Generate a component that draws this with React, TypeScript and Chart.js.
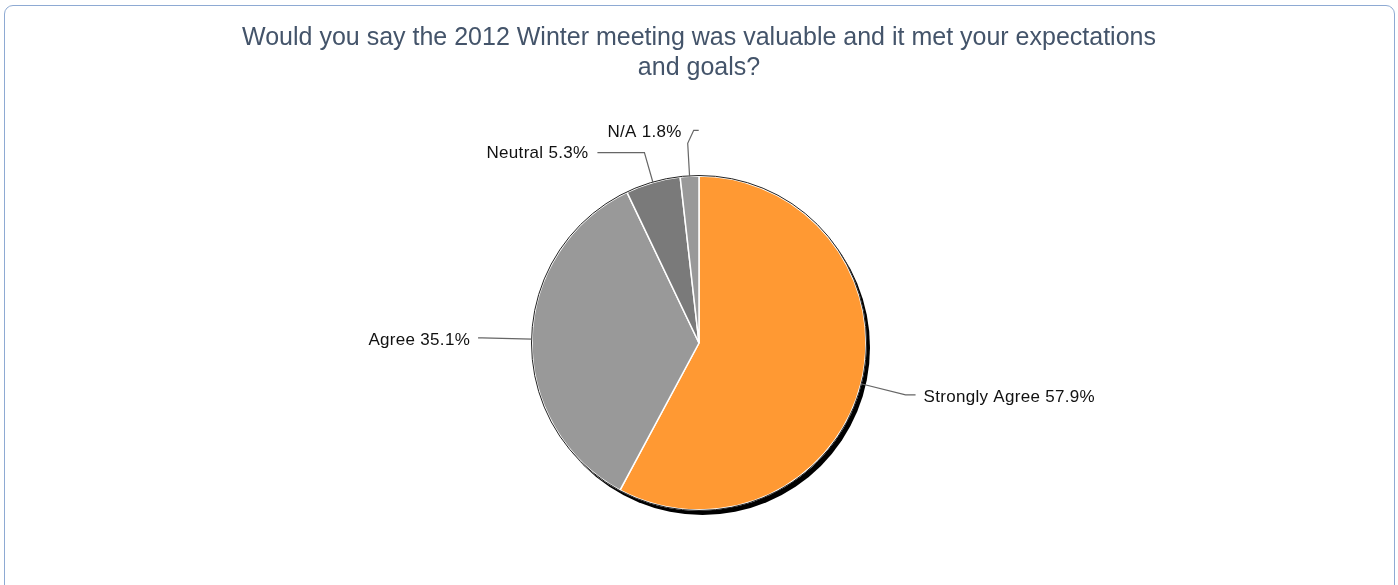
import React, { useEffect, useRef } from "react";
import { Chart, registerables } from "chart.js";

Chart.register(...registerables);

const TITLE_LINES = [
  "Would you say the 2012 Winter meeting was valuable and it met your expectations",
  "and goals?",
];
const CATEGORIES = ["Strongly Agree", "Agree", "Neutral", "N/A"];
const PERCENTS = [57.9, 35.1, 5.3, 1.8];
const SLICE_COLORS = ["#ff9933", "#999999", "#7a7a7a", "#999999"];

// leader-line layout per slice (style only)
const LEADERS = [
  { radial: 46, bend: [0, 0], h: 10, text: [8, 2], align: "left" },
  { radial: 50, bend: [0, 0], h: -4, text: [-8, 2], align: "right" },
  { radial: 31, bend: [0, 0], h: -47, text: [-9, 1], align: "right" },
  { radial: 33, bend: [6, -13], h: 5, text: [-17, 1.5], align: "right" },
];

const W = 1398;
const H = 585;

const piePlugin = {
  id: "pieDecor",
  beforeDatasetsDraw(chart: any) {
    const ctx = chart.ctx;
    const arc = chart.getDatasetMeta(0).data[0];
    if (!arc) return;
    const { x, y, outerRadius } = arc.getProps(["x", "y", "outerRadius"], true);
    ctx.save();
    ctx.fillStyle = "#000000";
    ctx.beginPath();
    ctx.arc(x + 3.5, y + 4.5, outerRadius + 0.5, 0, Math.PI * 2);
    ctx.fill();
    ctx.restore();
  },
  afterDatasetsDraw(chart: any) {
    const ctx = chart.ctx;
    const meta = chart.getDatasetMeta(0);
    const first = meta.data[0];
    if (!first) return;
    const { x: cx, y: cy, outerRadius: r } = first.getProps(["x", "y", "outerRadius"], true);
    ctx.save();
    ctx.strokeStyle = "#222222";
    ctx.lineWidth = 1;
    ctx.beginPath();
    ctx.arc(cx, cy, r + 0.5, 0, Math.PI * 2);
    ctx.stroke();

    // labels & leader lines
    ctx.font = "17px 'Liberation Sans', Arial, sans-serif";
    try {
      (ctx as any).letterSpacing = "0.3px";
    } catch (e) {}
    ctx.textBaseline = "middle";
    meta.data.forEach((el: any, i: number) => {
      const { startAngle, endAngle } = el.getProps(["startAngle", "endAngle"], true);
      const mid = (startAngle + endAngle) / 2;
      const L = LEADERS[i];
      const p0 = [cx + Math.cos(mid) * r, cy + Math.sin(mid) * r];
      const p1 = [cx + Math.cos(mid) * (r + L.radial), cy + Math.sin(mid) * (r + L.radial)];
      const p2 = [p1[0] + L.bend[0], p1[1] + L.bend[1]];
      const p3 = [p2[0] + L.h, p2[1]];
      ctx.strokeStyle = "#666666";
      ctx.lineWidth = 1.2;
      ctx.beginPath();
      ctx.moveTo(p0[0], p0[1]);
      ctx.lineTo(p1[0], p1[1]);
      ctx.lineTo(p2[0], p2[1]);
      ctx.lineTo(p3[0], p3[1]);
      ctx.stroke();
      ctx.fillStyle = "#111111";
      ctx.textAlign = L.align as CanvasTextAlign;
      const label = CATEGORIES[i] + " " + PERCENTS[i].toFixed(1) + "%";
      ctx.fillText(label, p3[0] + L.text[0], p3[1] + L.text[1]);
    });

    // title
    try {
      (ctx as any).letterSpacing = "0px";
    } catch (e) {}
    ctx.fillStyle = "#44546a";
    ctx.textAlign = "center";
    ctx.font = "25px 'Liberation Sans', Arial, sans-serif";
    TITLE_LINES.forEach((t, i) => {
      ctx.fillText(t, chart.width / 2, 38 + i * 30);
    });
    ctx.restore();
  },
};

export default function App() {
  const ref = useRef<HTMLCanvasElement | null>(null);

  useEffect(() => {
    if (!ref.current) return;
    const chart = new Chart(ref.current, {
      type: "pie",
      data: {
        labels: CATEGORIES,
        datasets: [
          {
            data: PERCENTS,
            backgroundColor: SLICE_COLORS,
            borderColor: "#ffffff",
            borderWidth: 1.5,
            radius: 167,
          } as any,
        ],
      },
      options: {
        responsive: false,
        animation: false,
        events: [],
        layout: { padding: { top: 152, bottom: 51, left: 0, right: 0 } },
        plugins: {
          legend: { display: false },
          title: { display: false },
          tooltip: { enabled: false },
        },
      },
      plugins: [piePlugin],
    });
    return () => chart.destroy();
  }, []);

  return (
    <div
      style={{
        position: "fixed",
        left: 0,
        top: 0,
        width: W,
        height: H,
        background: "#ffffff",
        overflow: "hidden",
      }}
    >
      <div
        style={{
          position: "absolute",
          left: 4,
          top: 5,
          width: 1391,
          height: 640,
          boxSizing: "border-box",
          border: "1px solid #8eaad3",
          borderRadius: 9,
        }}
      />
      <canvas
        ref={ref}
        width={W}
        height={H}
        style={{ position: "absolute", left: 0, top: 0, width: W, height: H }}
      />
    </div>
  );
}
